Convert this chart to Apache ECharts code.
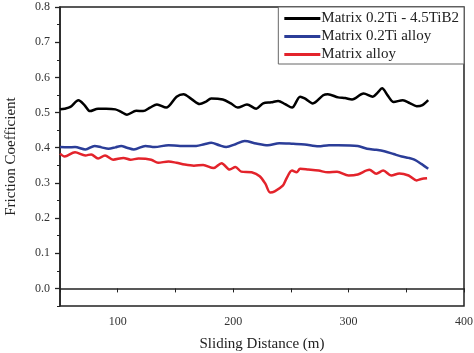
<!DOCTYPE html>
<html>
<head>
<meta charset="utf-8">
<script src="https://cdn.jsdelivr.net/npm/echarts@6/dist/echarts.min.js"></script>
<style>
  html, body { margin: 0; padding: 0; background: #fff; }
  #chart { width: 474px; height: 353px; }
</style>
</head>
<body>
<div id="chart"></div>
<script>
// Series names
const seriesNames = ['Matrix 0.2Ti - 4.5TiB2', 'Matrix 0.2Ti alloy', 'Matrix alloy'];

// Matrix 0.2Ti - 4.5TiB2 (black), [distance, coefficient]
const tib2Data = [
  [50, 0.509], [54, 0.511], [59, 0.516], [66, 0.535], [71, 0.522], [76, 0.504], [83, 0.511],
  [90, 0.511], [98, 0.509], [103, 0.502], [108, 0.494], [116, 0.505], [122, 0.504],
  [128, 0.514], [134, 0.523], [142, 0.514], [151, 0.545], [157, 0.552], [164, 0.538],
  [171, 0.524], [176, 0.530], [181, 0.540], [191, 0.537], [198, 0.526], [204, 0.514],
  [212, 0.523], [220, 0.511], [226, 0.526], [233, 0.529], [239, 0.533], [245, 0.524],
  [251, 0.514], [258, 0.545], [262, 0.540], [269, 0.526], [278, 0.549], [282, 0.552],
  [291, 0.543], [297, 0.541], [303, 0.537], [313, 0.554], [321, 0.545], [325, 0.556],
  [329, 0.569], [334, 0.548], [339, 0.530], [347, 0.535], [353, 0.527], [359, 0.518],
  [364, 0.521], [369, 0.535]
];

// Matrix 0.2Ti alloy (blue)
const tiAlloyData = [
  [50, 0.402], [57, 0.401], [63, 0.402], [72, 0.395], [80, 0.405], [86, 0.401],
  [92, 0.397], [98, 0.401], [103, 0.405], [108, 0.400], [114, 0.395], [124, 0.405],
  [132, 0.402], [144, 0.407], [154, 0.405], [168, 0.405], [175, 0.410], [181, 0.414],
  [188, 0.407], [194, 0.402], [202, 0.410], [210, 0.419], [220, 0.412], [230, 0.407],
  [240, 0.413], [252, 0.411], [262, 0.409], [274, 0.404], [283, 0.407], [291, 0.407],
  [308, 0.405], [316, 0.397], [324, 0.394], [331, 0.390], [339, 0.382], [346, 0.375],
  [352, 0.371], [357, 0.366], [363, 0.354], [369, 0.340]
];

// Matrix alloy (red)
const alloyData = [
  [50, 0.383], [54, 0.375], [63, 0.387], [72, 0.378], [77, 0.381], [83, 0.369],
  [89, 0.378], [96, 0.366], [105, 0.371], [111, 0.366], [118, 0.369], [129, 0.366],
  [135, 0.357], [144, 0.361], [151, 0.357], [158, 0.352], [166, 0.349], [174, 0.351],
  [183, 0.342], [190, 0.356], [197, 0.338], [202, 0.345], [207, 0.332], [216, 0.330],
  [223, 0.319], [228, 0.297], [232, 0.273], [236, 0.276], [243, 0.292], [246, 0.311],
  [251, 0.335], [255, 0.330], [258, 0.340], [265, 0.338], [274, 0.335], [282, 0.330],
  [290, 0.332], [300, 0.321], [308, 0.324], [318, 0.337], [324, 0.326], [330, 0.335],
  [337, 0.321], [344, 0.327], [352, 0.321], [359, 0.307], [363, 0.311], [368, 0.313]
];

const seriesColors = ['#000000', '#2b3d98', '#e3232b'];

// Axis ticks
const xLabelValues = [100, 200, 300, 400];
const yLabelValues = [0, 0.1, 0.2, 0.3, 0.4, 0.5, 0.6, 0.7, 0.8];

const font = 'Liberation Serif';
const chart = echarts.init(document.getElementById('chart'), null, { renderer: 'canvas' });

const option = {
  animation: false,
  backgroundColor: '#ffffff',
  textStyle: { fontFamily: font },
  grid: {
    left: 60, right: 10, top: 7, bottom: 47,
    outerBoundsMode: 'none',
    show: true, borderColor: '#222', borderWidth: 1.5, backgroundColor: 'transparent'
  },
  legend: {
    orient: 'vertical',
    right: 10, top: 7,
    data: seriesNames,
    icon: 'rect',
    itemWidth: 36, itemHeight: 3,
    itemGap: 3,
    padding: [4, 5, 2, 6],
    borderColor: '#666', borderWidth: 1,
    backgroundColor: '#fff',
    textStyle: { fontFamily: font, fontSize: 15, color: '#222', padding: [0, 0, 0, -4] }
  },
  xAxis: {
    type: 'value',
    min: 50, max: 400, interval: 50,
    name: 'Sliding Distance (m)',
    nameLocation: 'middle', nameGap: 31,
    nameTextStyle: { fontFamily: font, fontSize: 15, color: '#222' },
    axisLine: { lineStyle: { color: '#222', width: 1.5 } },
    axisTick: { length: 4, lineStyle: { color: '#222' } },
    axisLabel: {
      fontFamily: font, fontSize: 12, color: '#333', margin: 10,
      formatter: v => (xLabelValues.indexOf(v) >= 0 ? String(v) : '')
    },
    splitLine: { show: false }
  },
  yAxis: [
    {
      type: 'value',
      min: -0.05, max: 0.8, interval: 0.05,
      name: 'Friction Coefficient',
      nameLocation: 'middle', nameGap: 41,
      nameTextStyle: { fontFamily: font, fontSize: 15, color: '#222' },
      axisLine: { show: true, lineStyle: { color: '#222', width: 1.5 } },
      axisTick: { length: 3, lineStyle: { color: '#222' } },
      axisLabel: {
        fontFamily: font, fontSize: 12, color: '#333', margin: 10,
        formatter: v => {
          const r = Math.round(v * 100) / 100;
          return yLabelValues.some(t => Math.abs(t - r) < 1e-6) ? r.toFixed(1) : '';
        }
      },
      splitLine: { show: false }
    },
    {
      type: 'value',
      position: 'left',
      min: -0.05, max: 0.8,
      axisLine: { show: false },
      axisTick: { show: true, length: 5, customValues: yLabelValues, lineStyle: { color: '#222', width: 1.3 } },
      axisLabel: { show: false },
      splitLine: { show: false }
    }
  ],
  series: [
    { name: seriesNames[0], data: tib2Data, color: seriesColors[0] },
    { name: seriesNames[1], data: tiAlloyData, color: seriesColors[1] },
    { name: seriesNames[2], data: alloyData, color: seriesColors[2] }
  ].map(s => ({
    type: 'line',
    name: s.name,
    data: s.data,
    yAxisIndex: 0,
    showSymbol: false,
    smooth: 0.3,
    itemStyle: { color: s.color },
    lineStyle: { color: s.color, width: 2.5 }
  }))
};

chart.setOption(option);
</script>
</body>
</html>
